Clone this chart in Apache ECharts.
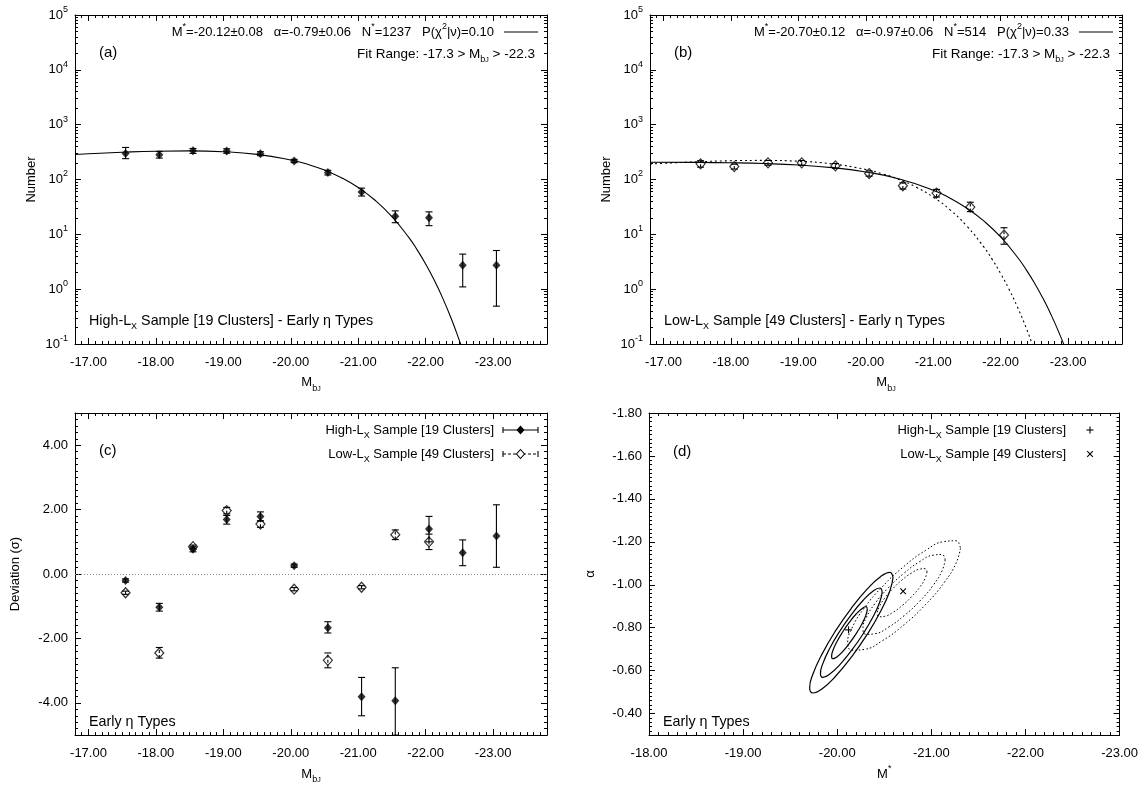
<!DOCTYPE html>
<html><head><meta charset="utf-8">
<script src="https://cdn.jsdelivr.net/npm/echarts@6/dist/echarts.min.js"></script>
<style>html,body{margin:0;padding:0;background:#fff;overflow:hidden}#c{width:1141px;height:785px}</style>
</head><body><div id="c"></div><script>
// ---------------- DATA ----------------
const magBins = [-17.55,-18.05,-18.55,-19.05,-19.55,-20.05,-20.55,-21.05,-21.55,-22.05,-22.55,-23.05];
// (a) High-Lx counts
const highN   = [299,283,334,330,295,217,134,59,21.4,20.0,2.72,2.72];
const highNLo = [240,246,299,301,272,203,121,50,16.3,14.4,1.10,0.49];
const highNHi = [384,325,368,363,321,233,147,69.6,26.8,25.7,4.36,5.07];
// (b) Low-Lx counts
const lowBins = [-17.55,-18.05,-18.55,-19.05,-19.55,-20.05,-20.55,-21.05,-21.55,-22.05];
const lowN    = [193,172,201,201,177,128.5,76.8,56.5,31.4,9.7];
const lowNLo  = [168,155,182,182,160,115,67,48,26,6.6];
const lowNHi  = [220,190,222,222,196,143,87,66,38.5,13.2];
// fit curves
const highFitMag = [-16.8,-17.0,-17.5,-18.0,-18.5,-19.0,-19.5,-20.0,-20.25,-20.5,-20.75,-21.0,-21.25,-21.5,-21.75,-21.875,-22.0,-22.125,-22.25,-22.375,-22.5,-22.55];
const highFit    = [286,294.5,313.8,328.1,332.6,321.2,287.3,227.4,189.3,148.4,107.9,71.3,41.8,21.05,8.79,5.204,2.885,1.483,0.7015,0.3016,0.1167,0.0772];
const highFitLowNorm = [191.6,197.3,210.2,219.8,222.8,215.2,192.5,152.4,126.8,99.4,72.3,47.8,28.0,14.1,5.89,3.49,1.93,0.994,0.470,0.202,0.078,0.052];
const lowFitMag = [-16.8,-17.5,-18.0,-18.5,-19.0,-19.5,-20.0,-20.5,-21.0,-21.25,-21.5,-21.75,-22.0,-22.25,-22.375,-22.5,-22.625,-22.75,-22.875,-23.0];
const lowFit    = [206.8,205.6,202.2,195.2,183.3,164.4,137.3,102.4,63.9,45.7,30.0,17.56,8.95,3.82,2.307,1.308,0.692,0.3384,0.1516,0.0616];
// (c) deviations
const devHigh   = [-0.20,-1.03,0.77,1.69,1.79,0.26,-1.67,-3.81,-3.93,1.40,0.66,1.18];
const devHighLo = [-0.25,-1.15,0.69,1.55,1.65,0.21,-1.83,-4.40,-5.00,1.00,0.26,0.21];
const devHighHi = [-0.15,-0.91,0.85,1.82,1.93,0.31,-1.48,-3.21,-2.91,1.79,1.06,2.15];
const devLow    = [-0.58,-2.45,0.85,1.97,1.55,-0.47,-2.68,-0.41,1.22,1.00];
const devLowLo  = [-0.63,-2.61,0.80,1.87,1.45,-0.52,-2.91,-0.46,1.07,0.76];
const devLowHi  = [-0.53,-2.28,0.90,2.07,1.65,-0.42,-2.45,-0.36,1.37,1.24];
// (d) best fits and confidence contours (M*, alpha)
const bestHigh = [-20.12,-0.79];
const bestLow  = [-20.70,-0.97];
const solidOuter = [[-20.593,-1.034],[-20.559,-0.971],[-20.463,-0.878],[-20.320,-0.770],[-20.150,-0.663],[-19.980,-0.573],[-19.837,-0.515],[-19.741,-0.496],[-19.707,-0.520],[-19.741,-0.583],[-19.837,-0.676],[-19.980,-0.784],[-20.150,-0.891],[-20.320,-0.981],[-20.463,-1.039],[-20.559,-1.058],[-20.593,-1.034]];
const solidMid = [[-20.478,-0.967],[-20.453,-0.921],[-20.382,-0.852],[-20.276,-0.772],[-20.150,-0.693],[-20.024,-0.626],[-19.918,-0.583],[-19.847,-0.569],[-19.822,-0.587],[-19.847,-0.633],[-19.918,-0.702],[-20.024,-0.782],[-20.150,-0.861],[-20.276,-0.928],[-20.382,-0.971],[-20.453,-0.985],[-20.478,-0.967]];
const solidInner = [[-20.320,-0.888],[-20.306,-0.860],[-20.265,-0.820],[-20.203,-0.774],[-20.130,-0.728],[-20.057,-0.689],[-19.995,-0.664],[-19.954,-0.656],[-19.940,-0.666],[-19.954,-0.694],[-19.995,-0.734],[-20.057,-0.780],[-20.130,-0.826],[-20.203,-0.865],[-20.265,-0.890],[-20.306,-0.898],[-20.320,-0.888]];
const dotOuter = [[-21.309,-1.170],[-21.263,-1.101],[-21.134,-1.009],[-20.939,-0.908],[-20.710,-0.814],[-20.481,-0.740],[-20.286,-0.699],[-20.157,-0.695],[-20.111,-0.730],[-20.157,-0.799],[-20.286,-0.891],[-20.481,-0.992],[-20.710,-1.086],[-20.939,-1.160],[-21.134,-1.201],[-21.263,-1.205],[-21.309,-1.170]];
const dotMid = [[-21.147,-1.116],[-21.114,-1.065],[-21.020,-0.998],[-20.877,-0.924],[-20.710,-0.856],[-20.543,-0.802],[-20.400,-0.772],[-20.306,-0.769],[-20.273,-0.794],[-20.306,-0.845],[-20.400,-0.912],[-20.543,-0.986],[-20.710,-1.054],[-20.877,-1.108],[-21.020,-1.138],[-21.114,-1.141],[-21.147,-1.116]];
const dotInner = [[-20.954,-1.060],[-20.933,-1.029],[-20.877,-0.989],[-20.791,-0.945],[-20.690,-0.903],[-20.589,-0.871],[-20.503,-0.853],[-20.447,-0.851],[-20.426,-0.866],[-20.447,-0.897],[-20.503,-0.937],[-20.589,-0.981],[-20.690,-1.023],[-20.791,-1.055],[-20.877,-1.073],[-20.933,-1.075],[-20.954,-1.060]];
// tick labels
const magTicks = [-17,-18,-19,-20,-21,-22,-23];
const mstarTicks = [-18,-19,-20,-21,-22,-23];
const devTicks = [-4,-2,0,2,4];
const alphaTicks = [-1.8,-1.6,-1.4,-1.2,-1.0,-0.8,-0.6,-0.4];
const logTicks = [0.10001,1,10,100,1000,10000,99999];

// ---------------- STYLE HELPERS ----------------
const FONT = '"Liberation Sans", Arial, Helvetica, sans-serif';
const RICH = {
  sup:{fontSize:9,lineHeight:10,verticalAlign:'top',fontFamily:FONT,color:'#000',fill:'#000'},
  sub:{fontSize:9,lineHeight:10,verticalAlign:'bottom',fontFamily:FONT,color:'#000',fill:'#000'},
  ssub:{fontSize:7,lineHeight:5,verticalAlign:'bottom',fontFamily:FONT,color:'#000',fill:'#000'}
};
const logMinor=[];for(let k=-1;k<=4;k++)for(let m=2;m<=9;m++)logMinor.push(m*Math.pow(10,k));

function buildOption(){
const TS={color:'#000',width:1,type:[8,0]};
function majorTick(vals){return {show:true,inside:true,length:6,customValues:vals,lineStyle:TS};}
function minorTick(o){return o.minorStep?{show:true,inside:true,length:3,lineStyle:TS}:{show:true,inside:true,length:3,customValues:o.minors,lineStyle:TS};}
function axLine(show){return {show:show,onZero:false,lineStyle:{color:'#000',width:1}};}
const nameStyle={fontSize:13,fontFamily:FONT,color:'#000',lineHeight:20,rich:RICH};
function labStyle(extra){return Object.assign({color:'#000',fontSize:13,fontFamily:FONT,lineHeight:20,rich:RICH},extra);}
function axesFor(dim,g,o){
  const pos=dim==='x'?['bottom','top']:['left','right'];
  const mk=(p,isMajor,withLabel)=>{
    const a={type:o.type||'value',gridIndex:g,min:o.min,max:o.max,inverse:!!o.inverse,position:p,
      splitLine:{show:false},axisLine:axLine(isMajor),
      axisTick:isMajor?majorTick(o.majors):minorTick(o),
      axisLabel:withLabel?labStyle({show:true,customValues:o.majors,formatter:o.fmt,margin:dim==='x'?8:7}):{show:false}};
    if(o.type==='log')a.logBase=10;
    if(!isMajor&&o.minorStep)a.interval=o.minorStep;
    if(withLabel){a.name=o.name;a.nameLocation='middle';a.nameGap=o.nameGap;a.nameTextStyle=nameStyle;}
    return a;
  };
  return [mk(pos[0],true,true),mk(pos[0],false,false),mk(pos[1],true,false),mk(pos[1],false,false)];
}
const fmt2=v=>v.toFixed(2);
const logFmt=v=>'10{sup|'+Math.round(Math.log10(v))+'}';
const MBJ='M{sub|b}{ssub|J}';
const magAxis={min:-23.8,max:-16.8,inverse:true,majors:magTicks,minorStep:0.1,fmt:fmt2,name:MBJ,nameGap:20};
const xAx=[].concat(axesFor('x',0,magAxis),axesFor('x',1,magAxis),axesFor('x',2,magAxis),
  axesFor('x',3,{min:-23,max:-18,inverse:true,majors:mstarTicks,minorStep:0.1,fmt:fmt2,name:'M{sup|*}',nameGap:20}));
const logAxis={type:'log',min:0.1,max:100000,majors:logTicks,minors:logMinor,fmt:logFmt,name:'Number',nameGap:32};
const yAx=[].concat(axesFor('y',0,logAxis),axesFor('y',1,logAxis),
  axesFor('y',2,{min:-5,max:5,majors:devTicks,minorStep:0.2,fmt:fmt2,name:'Deviation (σ)',nameGap:50}),
  axesFor('y',3,{min:-1.8,max:-0.3,inverse:true,majors:alphaTicks,minorStep:0.02,fmt:fmt2,name:'α',nameGap:49}));

function errSeries(g,xs,lo,hi,dash){
  return {type:'custom',xAxisIndex:4*g,yAxisIndex:4*g,clip:true,z:3,
    data:xs.map((x,i)=>[x,lo[i],hi[i]]),encode:{x:0,y:[1,2]},
    renderItem:(p,api)=>{
      const a=api.coord([api.value(0),api.value(1)]),b=api.coord([api.value(0),api.value(2)]);
      const st={stroke:'#000',lineWidth:1.1,lineDash:dash||null};
      const c=3.5;
      return {type:'group',children:[
        {type:'line',shape:{x1:a[0],y1:a[1],x2:b[0],y2:b[1]},style:st},
        {type:'line',shape:{x1:a[0]-c,y1:a[1],x2:a[0]+c,y2:a[1]},style:{stroke:'#000',lineWidth:1.1}},
        {type:'line',shape:{x1:b[0]-c,y1:b[1],x2:b[0]+c,y2:b[1]},style:{stroke:'#000',lineWidth:1.1}}]};
    }};
}
function ptSeries(g,xs,ys,open){
  return {type:'scatter',xAxisIndex:4*g,yAxisIndex:4*g,z:4,symbol:'diamond',symbolSize:open?[9,10]:[8,9],
    data:xs.map((x,i)=>[x,ys[i]]),
    itemStyle:open?{color:'rgba(255,255,255,0)',borderColor:'#000',borderWidth:1.2}:{color:'#000'}};
}
function curve(g,xs,ys,dash){
  return {type:'line',xAxisIndex:4*g,yAxisIndex:4*g,showSymbol:false,symbol:'none',smooth:true,z:2,
    data:xs.map((x,i)=>[x,ys[i]]),lineStyle:{color:'#000',width:1.1,type:dash||'solid'}};
}
function loop(pts,dash){
  return {type:'line',xAxisIndex:12,yAxisIndex:12,showSymbol:false,symbol:'none',smooth:0.5,z:2,
    data:pts,lineStyle:{color:'#000',width:dash?1:1.2,type:dash?[1.5,2.2]:'solid'}};
}
function crossSeries(pt,kind){
  return {type:'custom',xAxisIndex:12,yAxisIndex:12,z:5,data:[pt],encode:{x:0,y:1},
    renderItem:(p,api)=>{
      const c=api.coord([api.value(0),api.value(1)]);const r=3.5;
      const st={stroke:'#000',lineWidth:1.1};
      const segs=kind==='+'?[[c[0]-r,c[1],c[0]+r,c[1]],[c[0],c[1]-r,c[0],c[1]+r]]
        :[[c[0]-r*0.8,c[1]-r*0.8,c[0]+r*0.8,c[1]+r*0.8],[c[0]-r*0.8,c[1]+r*0.8,c[0]+r*0.8,c[1]-r*0.8]];
      return {type:'group',children:segs.map(s=>({type:'line',shape:{x1:s[0],y1:s[1],x2:s[2],y2:s[3]},style:st}))};
    }};
}
const series=[
  curve(0,highFitMag,highFit),
  errSeries(0,magBins,highNLo,highNHi),
  ptSeries(0,magBins,highN,false),
  curve(1,lowFitMag,lowFit),
  curve(1,highFitMag,highFitLowNorm,[2,3]),
  errSeries(1,lowBins,lowNLo,lowNHi,[3,2]),
  ptSeries(1,lowBins,lowN,true),
  Object.assign(errSeries(2,magBins,devHighLo,devHighHi),{markLine:{silent:true,symbol:'none',label:{show:false},
    lineStyle:{color:'#888',type:[1,2],width:1},data:[{yAxis:0}]}}),
  ptSeries(2,magBins,devHigh,false),
  errSeries(2,lowBins,devLowLo,devLowHi,[3,2]),
  ptSeries(2,lowBins,devLow,true),
  loop(solidOuter),loop(solidMid),loop(solidInner),
  loop(dotOuter,true),loop(dotMid,true),loop(dotInner,true),
  crossSeries(bestHigh,'+'),crossSeries(bestLow,'x')
];
function txt(x,y,text,align,size){
  return {type:'text',x:x,y:y,silent:true,style:{text:text,align:align||'left',verticalAlign:'middle',
    fontSize:size||13,fontFamily:FONT,fill:'#000',lineHeight:20,rich:RICH}};
}
function seg(x1,y1,x2,y2,dash){return {type:'line',silent:true,shape:{x1,y1,x2,y2},style:{stroke:'#000',lineWidth:1.1,lineDash:dash||null}};}
function dia(cx,cy,open){return {type:'polygon',silent:true,shape:{points:[[cx,cy-4.5],[cx+4,cy],[cx,cy+4.5],[cx-4,cy]]},
  style:open?{fill:'#fff',stroke:'#000',lineWidth:1.1}:{fill:'#000'}};}
const graphic=[
  txt(494,32,'M{sup|*}=-20.12±0.08   α=-0.79±0.06   N{sup|*}=1237   P(χ{sup|2}|ν)=0.10','right'),
  seg(504,32,538,32),
  txt(535,54,'Fit Range: -17.3 > '+MBJ+' > -22.3','right',13.5),
  txt(99,53,'(a)','left',15),
  txt(89,321,'High-L{sub|X} Sample [19 Clusters] - Early η Types','left',14.3),
  txt(1069,32,'M{sup|*}=-20.70±0.12   α=-0.97±0.06   N{sup|*}=514   P(χ{sup|2}|ν)=0.33','right'),
  seg(1079,32,1113,32),
  txt(1110,54,'Fit Range: -17.3 > '+MBJ+' > -22.3','right',13.5),
  txt(674,53,'(b)','left',15),
  txt(664,321,'Low-L{sub|X} Sample [49 Clusters] - Early η Types','left',14.3),
  txt(494,430,'High-L{sub|X} Sample [19 Clusters]','right'),
  seg(503,430,538,430),seg(503,427,503,433),seg(538,427,538,433),dia(520.5,430,false),
  txt(494,454,'Low-L{sub|X} Sample [49 Clusters]','right'),
  seg(503,454,538,454,[3,2]),seg(503,451,503,457),seg(538,451,538,457),dia(520.5,454,true),
  txt(99,451,'(c)','left',15),
  txt(89,722,'Early η Types','left',14.3),
  txt(1066,430,'High-L{sub|X} Sample [19 Clusters]','right'),
  seg(1086.5,430,1093.5,430),seg(1090,426.5,1090,433.5),
  txt(1066,454,'Low-L{sub|X} Sample [49 Clusters]','right'),
  seg(1087.2,451.2,1092.8,456.8),seg(1087.2,456.8,1092.8,451.2),
  txt(673,452,'(d)','left',15),
  txt(663,722,'Early η Types','left',14.3)
];
return {
  animation:false,backgroundColor:'#fff',
  textStyle:{fontFamily:FONT},
  grid:[
    {left:75,top:15,width:472,height:329},
    {left:650,top:15,width:472,height:329},
    {left:75,top:413,width:472,height:331},
    {left:649,top:413,width:473,height:331}],
  xAxis:xAx,yAxis:yAx,series:series,graphic:graphic
};
}

// warm-up render off screen (fonts and text metrics), then the visible chart
(function(){
  const d=document.createElement('div');
  d.style.cssText='position:absolute;left:0;top:3000px;width:1141px;height:785px';
  document.body.appendChild(d);
  const w=echarts.init(d,null,{renderer:'canvas'});
  w.setOption(buildOption());
  w.dispose();
  d.remove();
})();
let chart=echarts.init(document.getElementById('c'),null,{renderer:'canvas'});
chart.setOption(buildOption());
function rerender(){
  chart.dispose();
  chart=echarts.init(document.getElementById('c'),null,{renderer:'canvas'});
  chart.setOption(buildOption());
}
if(document.fonts&&document.fonts.ready){document.fonts.ready.then(()=>setTimeout(rerender,60));}
else setTimeout(rerender,60);
</script></body></html>
